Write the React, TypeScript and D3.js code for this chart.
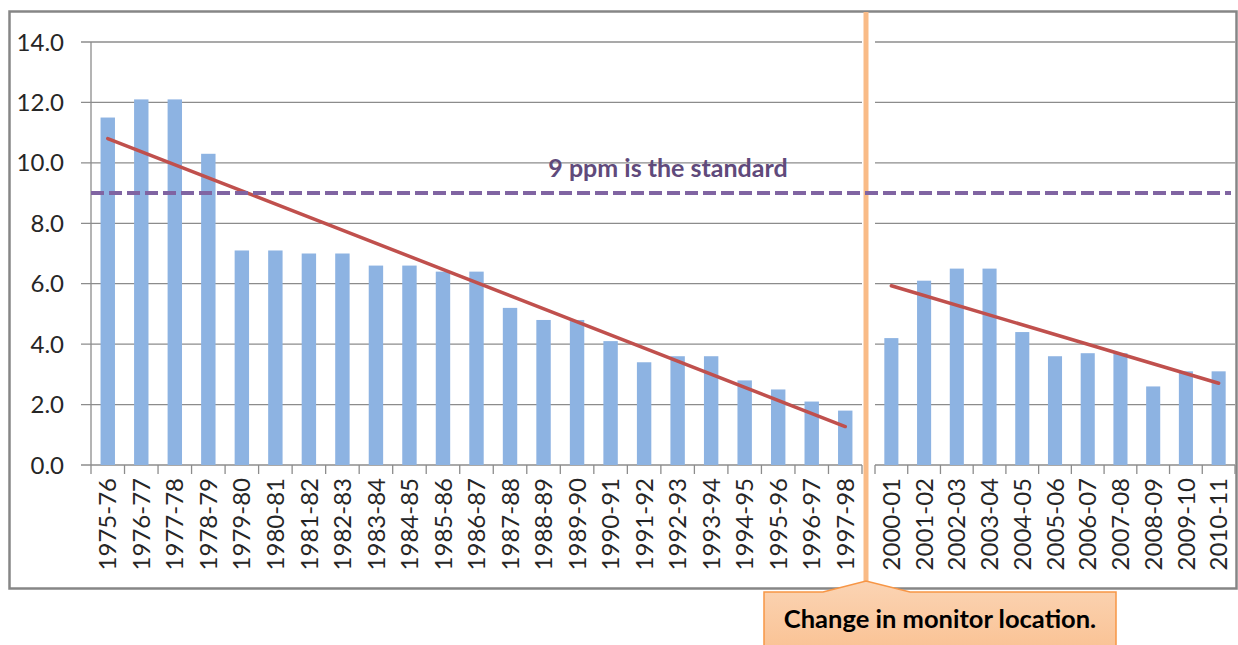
import React, { useRef, useEffect } from "react";
import * as d3 from "d3";

// seasons before the monitor moved
const earlyYears = [
  "1975-76", "1976-77", "1977-78", "1978-79", "1979-80", "1980-81", "1981-82",
  "1982-83", "1983-84", "1984-85", "1985-86", "1986-87", "1987-88", "1988-89",
  "1989-90", "1990-91", "1991-92", "1992-93", "1993-94", "1994-95", "1995-96",
  "1996-97", "1997-98",
];
const earlyValues = [
  11.5, 12.1, 12.1, 10.3, 7.1, 7.1, 7.0, 7.0, 6.6, 6.6, 6.4, 6.4, 5.2, 4.8,
  4.8, 4.1, 3.4, 3.6, 3.6, 2.8, 2.5, 2.1, 1.8,
];

// seasons after the move
const lateYears = [
  "2000-01", "2001-02", "2002-03", "2003-04", "2004-05", "2005-06", "2006-07",
  "2007-08", "2008-09", "2009-10", "2010-11",
];
const lateValues = [4.2, 6.1, 6.5, 6.5, 4.4, 3.6, 3.7, 3.7, 2.6, 3.1, 3.1];

const yTicks = [0, 2, 4, 6, 8, 10, 12, 14];
const standard = 9;
const standardLabel = "9 ppm is the standard";
const calloutLabel = "Change in monitor location.";

const W = 1238;
const H = 645;
const FONT = "Lato, 'Open Sans', sans-serif";

// least squares fit, returns value at first and last index
function fitEnds(vals: number[]) {
  const n = vals.length;
  const xs = d3.range(n);
  const mx = d3.mean(xs) as number;
  const my = d3.mean(vals) as number;
  const sxy = d3.sum(xs, (x, i) => (x - mx) * (vals[i] - my));
  const sxx = d3.sum(xs, (x) => (x - mx) * (x - mx));
  const slope = sxy / sxx;
  return [my - slope * mx, my + slope * (n - 1 - mx)];
}

const App = () => {
  const ref = useRef<SVGSVGElement>(null);

  useEffect(() => {
    const svg = d3.select(ref.current);
    svg.selectAll("*").remove();

    const top = 42, bottom = 465;
    const y = d3.scaleLinear().domain([0, 14]).range([bottom, top]);

    const panels = [
      { cats: earlyYears, vals: earlyValues, x0: 91, x1: 862, axis: true },
      { cats: lateYears, vals: lateValues, x0: 875, x1: 1235, axis: false },
    ];

    // outer frame
    svg.append("rect")
      .attr("x", 9.5).attr("y", 11.5)
      .attr("width", 1227).attr("height", 577)
      .attr("fill", "white")
      .attr("stroke", "#868686")
      .attr("stroke-width", 2.5);

    const grid = "#8c8c8c";

    panels.forEach((p) => {
      const x = d3.scaleBand<string>().domain(p.cats).range([p.x0, p.x1]);
      const g = svg.append("g");

      // gridlines
      g.selectAll("line.grid")
        .data(yTicks)
        .join("line")
        .attr("x1", p.axis ? p.x0 - 10 : p.x0)
        .attr("x2", p.x1)
        .attr("y1", (d) => y(d))
        .attr("y2", (d) => y(d))
        .attr("stroke", grid)
        .attr("stroke-width", 1.3);

      if (p.axis) {
        g.append("line")
          .attr("x1", p.x0).attr("x2", p.x0)
          .attr("y1", top).attr("y2", bottom)
          .attr("stroke", grid).attr("stroke-width", 1.3);
        g.selectAll("text.ytick")
          .data(yTicks)
          .join("text")
          .attr("x", p.x0 - 27)
          .attr("y", (d) => y(d))
          .attr("dy", "0.36em")
          .attr("text-anchor", "end")
          .attr("font-family", FONT)
          .attr("font-size", 24)
          .attr("fill", "#262626")
          .text((d) => d3.format(".1f")(d));
      }

      // x ticks at band edges
      const edges = p.cats.map((c) => x(c) as number).concat([p.x1]);
      g.selectAll("line.xtick")
        .data(edges)
        .join("line")
        .attr("x1", (d) => d).attr("x2", (d) => d)
        .attr("y1", bottom).attr("y2", bottom + 9)
        .attr("stroke", grid).attr("stroke-width", 1.3);

      // bars
      const bw = x.bandwidth() * 0.43;
      g.selectAll("rect.bar")
        .data(p.vals)
        .join("rect")
        .attr("x", (d, i) => (x(p.cats[i]) as number) + x.bandwidth() / 2 - bw / 2)
        .attr("y", (d) => y(d))
        .attr("width", bw)
        .attr("height", (d) => bottom - y(d))
        .attr("fill", "#8db3e2");

      // category labels
      g.selectAll("text.xlab")
        .data(p.cats)
        .join("text")
        .attr("transform", (d) => `translate(${(x(d) as number) + x.bandwidth() / 2}, ${bottom + 13}) rotate(-90)`)
        .attr("dy", "0.36em")
        .attr("text-anchor", "end")
        .attr("font-family", FONT)
        .attr("font-size", 24)
        .attr("fill", "#262626")
        .text((d) => d);

      // linear trend
      const ends = fitEnds(p.vals);
      const cx = (c: string) => (x(c) as number) + x.bandwidth() / 2;
      g.append("line")
        .attr("x1", cx(p.cats[0]))
        .attr("y1", y(ends[0]))
        .attr("x2", cx(p.cats[p.cats.length - 1]))
        .attr("y2", y(ends[1]))
        .attr("stroke", "#c0504d")
        .attr("stroke-width", 3.5)
        .attr("stroke-linecap", "round");
    });

    // divider for the monitor move
    svg.append("line")
      .attr("x1", 866).attr("x2", 866)
      .attr("y1", 12).attr("y2", 582)
      .attr("stroke", "#f9bb87")
      .attr("stroke-width", 5);

    // standard line
    svg.append("line")
      .attr("x1", 91).attr("x2", 1231)
      .attr("y1", y(standard)).attr("y2", y(standard))
      .attr("stroke", "#8064a2")
      .attr("stroke-width", 4)
      .attr("stroke-dasharray", "13,5");

    svg.append("text")
      .attr("x", 668)
      .attr("y", y(standard) - 16)
      .attr("text-anchor", "middle")
      .attr("font-family", FONT)
      .attr("font-weight", "bold")
      .attr("font-size", 25)
      .attr("fill", "#604a7b")
      .text(standardLabel);

    // callout
    const defs = svg.append("defs");
    const grad = defs.append("linearGradient")
      .attr("id", "callFill")
      .attr("x1", 0).attr("y1", 0).attr("x2", 0).attr("y2", 1);
    grad.append("stop").attr("offset", "0%").attr("stop-color", "#fbd4b4");
    grad.append("stop").attr("offset", "100%").attr("stop-color", "#fac090");

    const pts: [number, number][] = [
      [764, 592], [823, 592], [866, 581], [910, 592], [1116, 592],
      [1116, 660], [764, 660],
    ];
    svg.append("path")
      .attr("d", d3.line()(pts) + "Z")
      .attr("fill", "url(#callFill)")
      .attr("stroke", "#f79646")
      .attr("stroke-width", 1.5);

    svg.append("text")
      .attr("x", 940)
      .attr("y", 628)
      .attr("text-anchor", "middle")
      .attr("font-family", FONT)
      .attr("font-weight", "bold")
      .attr("font-size", 25.5)
      .attr("fill", "#000")
      .text(calloutLabel);
  }, []);

  return (
    <svg
      ref={ref}
      width={W}
      height={H}
      style={{ position: "absolute", left: 0, top: 0, background: "white" }}
    />
  );
};

export default App;
